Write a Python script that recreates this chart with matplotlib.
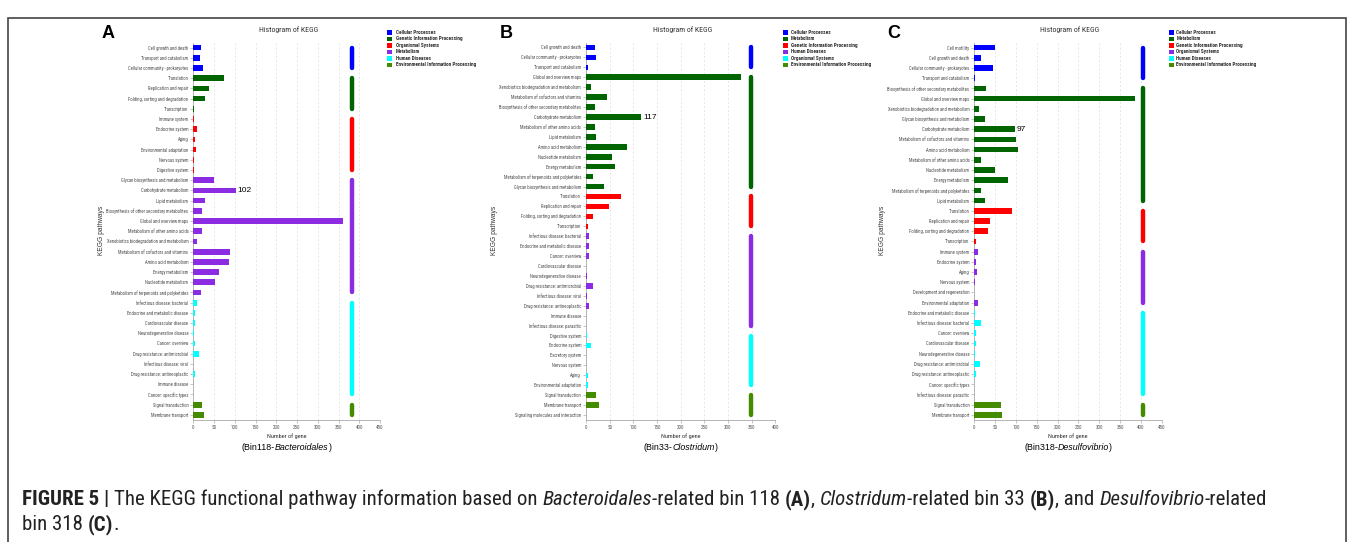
import numpy as np
import matplotlib
matplotlib.use('Agg')
import matplotlib.pyplot as plt
from matplotlib import ft2font
from matplotlib.font_manager import FontProperties, findfont, get_font
from matplotlib.patches import Rectangle
from matplotlib.transforms import IdentityTransform

# ---- data ----
A_labels = ['Cell growth and death', 'Transport and catabolism', 'Cellular community - prokaryotes',
            'Translation', 'Replication and repair', 'Folding, sorting and degradation', 'Transcription',
            'Immune system', 'Endocrine system', 'Aging', 'Environmental adaptation', 'Nervous system',
            'Digestive system',
            'Glycan biosynthesis and metabolism', 'Carbohydrate metabolism', 'Lipid metabolism',
            'Biosynthesis of other secondary metabolites', 'Global and overview maps',
            'Metabolism of other amino acids', 'Xenobiotics biodegradation and metabolism',
            'Metabolism of cofactors and vitamins', 'Amino acid metabolism', 'Energy metabolism',
            'Nucleotide metabolism', 'Metabolism of terpenoids and polyketides',
            'Infectious disease: bacterial', 'Endocrine and metabolic disease', 'Cardiovascular disease',
            'Neurodegenerative disease', 'Cancer: overview', 'Drug resistance: antimicrobial',
            'Infectious disease: viral', 'Drug resistance: antineoplastic', 'Immune disease',
            'Cancer: specific types',
            'Signal transduction', 'Membrane transport']
A_values = [18, 15, 23,
            74, 37, 28, 2,
            2, 10, 5, 6, 1, 1,
            51, 102, 27, 20, 362, 21, 10, 88, 85, 63, 52, 18,
            10, 3, 3, 1, 4, 14, 0, 3, 0, 0,
            21, 26]
A_groups = ['Cellular Processes', 'Genetic Information Processing', 'Organismal Systems',
            'Metabolism', 'Human Diseases', 'Environmental Information Processing']
A_sizes = [3, 4, 6, 12, 10, 2]

B_labels = ['Cell growth and death', 'Cellular community - prokaryotes', 'Transport and catabolism',
            'Global and overview maps', 'Xenobiotics biodegradation and metabolism',
            'Metabolism of cofactors and vitamins', 'Biosynthesis of other secondary metabolites',
            'Carbohydrate metabolism', 'Metabolism of other amino acids', 'Lipid metabolism',
            'Amino acid metabolism', 'Nucleotide metabolism', 'Energy metabolism',
            'Metabolism of terpenoids and polyketides', 'Glycan biosynthesis and metabolism',
            'Translation', 'Replication and repair', 'Folding, sorting and degradation', 'Transcription',
            'Infectious disease: bacterial', 'Endocrine and metabolic disease', 'Cancer: overview',
            'Cardiovascular disease', 'Neurodegenerative disease', 'Drug resistance: antimicrobial',
            'Infectious disease: viral', 'Drug resistance: antineoplastic', 'Immune disease',
            'Infectious disease: parasitic',
            'Digestive system', 'Endocrine system', 'Excretory system', 'Nervous system', 'Aging',
            'Environmental adaptation',
            'Signal transduction', 'Membrane transport', 'Signaling molecules and interaction']
B_values = [19, 22, 4,
            327, 11, 44, 20, 117, 19, 22, 87, 54, 61, 14, 38,
            75, 49, 15, 4,
            6, 6, 6, 0, 2, 15, 2, 7, 0, 0,
            2, 11, 0, 0, 4, 4,
            22, 27, 0]
B_groups = ['Cellular Processes', 'Metabolism', 'Genetic Information Processing',
            'Human Diseases', 'Organismal Systems', 'Environmental Information Processing']
B_sizes = [3, 12, 4, 10, 6, 3]

C_labels = ['Cell motility', 'Cell growth and death', 'Cellular community - prokaryotes',
            'Transport and catabolism',
            'Biosynthesis of other secondary metabolites', 'Global and overview maps',
            'Xenobiotics biodegradation and metabolism', 'Glycan biosynthesis and metabolism',
            'Carbohydrate metabolism', 'Metabolism of cofactors and vitamins', 'Amino acid metabolism',
            'Metabolism of other amino acids', 'Nucleotide metabolism', 'Energy metabolism',
            'Metabolism of terpenoids and polyketides', 'Lipid metabolism',
            'Translation', 'Replication and repair', 'Folding, sorting and degradation', 'Transcription',
            'Immune system', 'Endocrine system', 'Aging', 'Nervous system',
            'Development and regeneration', 'Environmental adaptation',
            'Endocrine and metabolic disease', 'Infectious disease: bacterial', 'Cancer: overview',
            'Cardiovascular disease', 'Neurodegenerative disease', 'Drug resistance: antimicrobial',
            'Drug resistance: antineoplastic', 'Cancer: specific types', 'Infectious disease: parasitic',
            'Signal transduction', 'Membrane transport']
C_values = [50, 17, 44, 1.5,
            27, 386, 12, 25, 97, 99, 106, 15, 49, 80, 15, 26,
            90, 37, 34, 5,
            10, 5, 6, 2, 0, 8,
            2, 15, 3, 5, 1.5, 14, 3, 0, 0,
            64, 67]
C_groups = ['Cellular Processes', 'Metabolism', 'Genetic Information Processing',
            'Organismal Systems', 'Human Diseases', 'Environmental Information Processing']
C_sizes = [4, 12, 4, 6, 9, 2]

PALETTE = ['#0000FF', '#006400', '#FF0000', '#8B2BE2', '#00FFFF', '#458B00']

W, H = 1358, 542
fig = plt.figure(figsize=(W / 100, H / 100), dpi=100)
NARROW = ['Liberation Sans Narrow', 'DejaVu Sans Condensed', 'Roboto Condensed', 'Liberation Sans']
SANS = ['Liberation Sans', 'DejaVu Sans']
renderer = fig.canvas.get_renderer()


def px_axes(x0, y0, x1, y1):
    return fig.add_axes([x0 / W, 1 - y1 / H, (x1 - x0) / W, (y1 - y0) / H])


def text_w(s, size, family, weight='normal', style='normal'):
    t = fig.text(0, 0, s, fontsize=size, family=family, fontweight=weight, fontstyle=style,
                 transform=IdentityTransform())
    w = t.get_window_extent(renderer).width
    t.remove()
    return w


def fit_size(s, target, family, weight='normal'):
    return 10 * target / text_w(s, 10, family, weight)


def raw_advance(s, size, family, weight, style):
    prop = FontProperties(family=family, weight=weight, style=style, size=size)
    font = get_font(findfont(prop))
    font.set_size(size, 100)
    total = 0.0
    kern = 0.0
    prev = None
    for ch in s:
        idx = font.get_char_index(ord(ch))
        if prev is not None:
            try:
                kern += font.get_kerning(prev, idx, ft2font.Kerning.DEFAULT) / 64
            except Exception:
                pass
        g = font.load_char(ord(ch), flags=ft2font.LoadFlags.NO_HINTING)
        total += g.linearHoriAdvance / 65536
        prev = idx
    return total, kern


def advance(s, size, family, weight, style):
    # pen advance of s in pixels; unit of the glyph metrics checked against a drawn probe
    probe = 'The KEGG functional pathway'
    raw_p, kern_p = raw_advance(probe, size, family, weight, style)
    ratio = text_w(probe, size, family, weight, style) / max(raw_p, 1e-6)
    hf = matplotlib.rcParams['text.hinting_factor']
    scale = min([1.0, 1.0 / hf, float(hf)], key=lambda c: abs(np.log(ratio / c)))
    raw, kern = raw_advance(s, size, family, weight, style)
    return raw * scale + kern


def rich(x, y, parts, size, family, color='black', ha='left', draw=True):
    # mixed-style text pieces one after the other (pixel coords, y from top)
    items = []
    total = 0
    for s, w, st in parts:
        lead = len(s) - len(s.lstrip(' '))
        core = s.strip(' ')
        off = total + (advance(' ' * lead, size, family, w, st) if lead else 0)
        items.append((core, w, st, off))
        total += advance(s, size, family, w, st)
    if not draw:
        return total
    x0 = x - total / 2 if ha == 'center' else x
    for core, w, st, off in items:
        fig.text(x0 + off, H - y, core, fontsize=size, fontweight=w, fontstyle=st,
                 family=family, color=color, va='baseline', transform=IdentityTransform())
    return total


LAB_FS = fit_size('Biosynthesis of other secondary metabolites', 80, NARROW)
LEG_FS = fit_size('Environmental Information Processing', 80, NARROW, 'bold')
TIT_FS = fit_size('Histogram of KEGG', 59, NARROW)
XL_FS = fit_size('Number of gene', 40, NARROW)
TICK_FS = fit_size('450', 7.5, NARROW)


def draw_panel(x0, x1, xmax, labels, values, sizes, groups, line_x, note_idx,
               letter, letter_x, sub_parts, leg_px, leg_tx):
    ax = px_axes(x0, 42.5, x1, 420)
    n = len(labels)
    y = np.arange(n)
    cols = [c for c, s in zip(PALETTE, sizes) for _ in range(s)]
    ax.barh(y, values, height=0.56, color=cols, zorder=3)
    ax.set_ylim(n - 0.5, -0.5)
    ax.set_xlim(0, xmax)
    ax.set_yticks(y)
    ax.set_yticklabels(labels, fontsize=LAB_FS, family=NARROW, color='#4d4d4d')
    ax.set_xticks(np.arange(0, xmax + 1, 50))
    ax.tick_params(axis='x', labelsize=TICK_FS, length=2, width=0.4, color='#999999',
                   labelcolor='#555555', pad=1.5)
    ax.tick_params(axis='y', length=2, width=0.4, color='#999999', pad=1.5)
    for lab in ax.get_xticklabels():
        lab.set_family(NARROW)
    ax.grid(axis='x', ls=(0, (3, 3)), color='#dddddd', lw=0.5, zorder=0)
    for sp in ['top', 'right']:
        ax.spines[sp].set_visible(False)
    for sp in ['left', 'bottom']:
        ax.spines[sp].set_color('#aaaaaa')
        ax.spines[sp].set_linewidth(0.6)

    # group indicator lines
    start = 0
    for s, c in zip(sizes, PALETTE):
        ax.plot([line_x, line_x], [start, start + s - 1], color=c, lw=3.2,
                solid_capstyle='round', zorder=4)
        start += s

    # value note
    ax.annotate(str(values[note_idx]), (values[note_idx], note_idx), xytext=(1.6, 0),
                textcoords='offset points', va='center', ha='left', fontsize=6, family=SANS)

    cx = (x0 + x1) / 2
    fig.text((cx + 1.5) / W, 1 - 30 / H, 'Histogram of KEGG', ha='center', va='center',
             fontsize=TIT_FS, family=NARROW, color='#333333')
    fig.text(x0 / W - 92 / W, 1 - 230 / H, 'KEGG pathways', rotation=90, ha='center',
             va='center', fontsize=4.8, family=SANS, color='#333333')
    fig.text(cx / W, 1 - 436.5 / H, 'Number of gene', ha='center', va='center',
             fontsize=XL_FS, family=NARROW, color='#333333')
    fig.text(letter_x / W, 1 - 34 / H, letter, ha='center', va='center', fontsize=13,
             fontweight='bold', family=SANS)
    rich(cx, 450, sub_parts, 6.4, SANS, ha='center')

    # legend
    for i, g in enumerate(groups):
        yy = 32.3 + i * 6.5
        fig.patches.append(Rectangle((leg_px, H - yy - 2.2), 4.7, 4.4, facecolor=PALETTE[i],
                                     edgecolor='none', transform=IdentityTransform()))
        fig.text(leg_tx / W, 1 - yy / H, g, ha='left', va='center', fontsize=LEG_FS,
                 fontweight='bold', family=NARROW, color='#333333')
    return ax


draw_panel(193.3, 380, 450, A_labels, A_values, A_sizes, A_groups, 383, 14,
           'A', 108, [('(Bin118-', 'normal', 'normal'), ('Bacteroidales', 'normal', 'italic'),
                      (')', 'normal', 'normal')], 387.3, 396)
draw_panel(586, 775.3, 400, B_labels, B_values, B_sizes, B_groups, 348, 7,
           'B', 506, [('(Bin33-', 'normal', 'normal'), ('Clostridum', 'normal', 'italic'),
                      (')', 'normal', 'normal')], 783, 791)
draw_panel(974.3, 1161.7, 450, C_labels, C_values, C_sizes, C_groups, 406, 8,
           'C', 894, [('(Bin318-', 'normal', 'normal'), ('Desulfovibrio', 'normal', 'italic'),
                      (')', 'normal', 'normal')], 1169.3, 1176.5)

# caption
cap1 = [('FIGURE 5 | ', 'bold', 'normal'),
        ('The KEGG functional pathway information based on ', 'normal', 'normal'),
        ('Bacteroidales', 'normal', 'italic'), ('-related bin 118 ', 'normal', 'normal'),
        ('(A)', 'bold', 'normal'), (', ', 'normal', 'normal'),
        ('Clostridum', 'normal', 'italic'), ('-related bin 33 ', 'normal', 'normal'),
        ('(B)', 'bold', 'normal'), (', and ', 'normal', 'normal'),
        ('Desulfovibrio', 'normal', 'italic'), ('-related', 'normal', 'normal')]
cap2 = [('bin 318 ', 'normal', 'normal'), ('(C)', 'bold', 'normal'), ('.', 'normal', 'normal')]

width = rich(22, 505, cap1, 12, NARROW, draw=False)
cap_fs = min(12 * 1243 / width, 16)
rich(22, 505, cap1, cap_fs, NARROW, color='#222222')
rich(22, 530, cap2, cap_fs, NARROW, color='#222222')

# outer frame
fig.patches.append(Rectangle((8, -10), 1338, H - 18 + 10, facecolor='none', edgecolor='#444444',
                             lw=1.2, transform=IdentityTransform()))

fig.savefig('out.png', dpi=100)
